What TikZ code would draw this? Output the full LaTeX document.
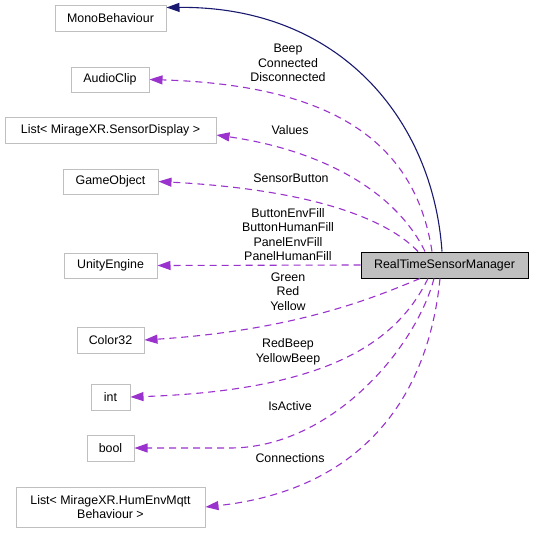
\documentclass[tikz,border=0pt]{standalone}
\usepackage{fontspec}
\setmainfont{Liberation Sans}
\usetikzlibrary{arrows.meta,calc}
\definecolor{navyedge}{HTML}{191970}
\definecolor{purpleedge}{HTML}{9A32CD}
\definecolor{boxgray}{HTML}{BFBFBF}
\begin{document}
\begin{tikzpicture}[x=1pt,y=-1pt,
  font=\fontsize{12.4}{14.5}\selectfont,
  cls/.style={draw=boxgray,line width=1pt,fill=white,inner sep=0pt,align=center},
  main/.style={draw=black,line width=1pt,fill=boxgray,inner sep=0pt,align=center},
  inherit/.style={draw=navyedge,line width=1.1pt,-{Triangle[length=13pt,width=9pt]}},
  usage/.style={draw=purpleedge,line width=1.1pt,dash pattern=on 7pt off 5pt,-{Triangle[length=13pt,width=9pt,fill=purpleedge]}},
  lbl/.style={inner sep=0pt,align=center}]
\useasboundingbox[fill=white] (0,0) rectangle (533,533);
\node[cls,minimum width=111pt,minimum height=26pt] (mono) at (110.5,18) {MonoBehaviour};
\node[cls,minimum width=78pt,minimum height=25pt] (audio) at (110,79.5) {AudioClip};
\node[cls,minimum width=211pt,minimum height=26pt] (listsd) at (110.5,130) {List< MirageXR.SensorDisplay >};
\node[cls,minimum width=95pt,minimum height=25pt] (game) at (110.5,181.5) {GameObject};
\node[cls,minimum width=93pt,minimum height=25pt] (unity) at (110.5,265.5) {UnityEngine};
\node[cls,minimum width=67pt,minimum height=26pt] (color) at (110.5,340) {Color32};
\node[cls,minimum width=39pt,minimum height=26pt] (int) at (110.5,397) {int};
\node[cls,minimum width=47pt,minimum height=26pt] (bool) at (110.5,448) {bool};
\node[cls,minimum width=189pt,minimum height=40pt] (listhe) at (110.5,507) {List< MirageXR.HumEnvMqtt\\Behaviour >};
\node[main,minimum width=167pt,minimum height=26pt] (rtsm) at (444.5,265) {RealTimeSensorManager};
\coordinate (monotip) at ($(mono.east)+(0,-10.5)$);
\coordinate (sdtip) at ($(listsd.east)+(0,5)$);
\draw[inherit] ($(rtsm.north)+(-2.5,0)$) .. controls (433,120) and (340,6) .. (monotip);
\draw[usage] ($(rtsm.north)+(-12.5,0)$) .. controls (415,140) and (330,85) .. (audio.east);
\draw[usage] ($(rtsm.north)+(-19.5,0)$) .. controls (395,190) and (320,150) .. (sdtip);
\draw[usage] ($(rtsm.north)+(-26.5,0)$) .. controls (390,222) and (320,190) .. (game.east);
\draw[usage] (rtsm.west) -- (unity.east);
\draw[usage] ($(rtsm.south)+(-24.5,0)$) .. controls (380,295) and (300,330) .. (color.east);
\draw[usage] ($(rtsm.south)+(-16.5,0)$) .. controls (400,335) and (340,390) .. (int.east);
\draw[usage] ($(rtsm.south)+(-10.5,0)$) .. controls (415,350) and (330,448) .. (230,448) -- (bool.east);
\draw[usage] ($(rtsm.south)+(-4.5,0)$) .. controls (428,400) and (360,490) .. (listhe.east);
\node[lbl] (l1) at (288,63) {Beep\\Connected\\Disconnected};
\node[lbl] (l2) at (290,130) {Values};
\node[lbl] (l3) at (291,178) {SensorButton};
\node[lbl] (l4) at (288,234.5) {ButtonEnvFill\\ButtonHumanFill\\PanelEnvFill\\PanelHumanFill};
\node[lbl] (l5) at (288,291.5) {Green\\Red\\Yellow};
\node[lbl] (l6) at (288,352) {RedBeep\\YellowBeep};
\node[lbl] (l7) at (290,406) {IsActive};
\node[lbl] (l8) at (290,458) {Connections};
\end{tikzpicture}
\end{document}
